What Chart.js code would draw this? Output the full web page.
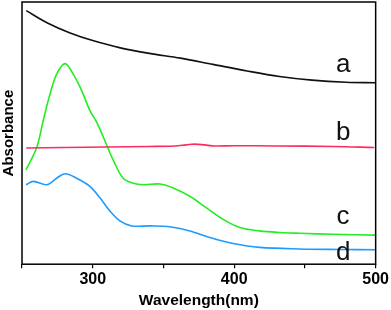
<!DOCTYPE html>
<html><head><meta charset="utf-8">
<script src="https://cdn.jsdelivr.net/npm/chart.js@4/dist/chart.umd.min.js"></script>
<style>html,body{margin:0;padding:0;background:#fff}#w{width:391px;height:310px}</style>
</head><body><div id="w"><canvas id="c"></canvas></div>
<script>
const wlA = [253, 268, 284, 300, 319.5, 340, 362, 385, 409, 432, 455, 479, 500];
const valA = [96.7, 92.0, 88.2, 85.3, 82.5, 80.4, 78.6, 76.2, 73.7, 71.6, 70.2, 69.4, 69.2];
const wlB = [253, 280, 310, 340, 358, 366, 372, 379, 386, 400, 430, 470, 499];
const valB = [44.3, 44.5, 44.7, 44.9, 45.1, 45.5, 45.8, 45.5, 45.1, 45.2, 45.1, 44.9, 44.5];
const wlC = [252.8, 260.4, 265, 269.8, 274.5, 280.4, 286.2, 292.2, 298, 302.8, 307.4, 314.5, 321.5, 328.6, 335.7, 347.5, 356.9, 368.6, 380.4, 392.2, 404, 418, 432.2, 446.3, 470, 500];
const valC = [36, 44.5, 54.8, 64.9, 72.5, 76.5, 72.5, 66.2, 58.6, 54.2, 48.6, 39.7, 32.8, 30.9, 30.3, 30.6, 29.1, 25.9, 21.5, 17.1, 14, 12.7, 12.1, 11.8, 11.4, 11.1];
const wlD = [252.8, 258, 267.4, 274.5, 280.4, 288.6, 298, 305.1, 312.1, 319.2, 327.5, 340.4, 354.5, 368.6, 382.8, 399.2, 418, 446.3, 475, 500];
const valD = [30.3, 31.6, 30.3, 32.8, 34.5, 32.8, 29.7, 25.3, 20.3, 16.5, 14.6, 14.6, 14.3, 12.7, 10.2, 7.9, 6.4, 5.8, 5.6, 5.5];
const curveLabels = ['a', 'b', 'c', 'd'];
const labelWl = [477, 477, 477, 477];
const labelVal = [73.2, 47.3, 15.2, 1.6];
const xTicks = [300, 400, 500];

function pts(xs, ys){ return xs.map((x,i)=>({x:x, y:ys[i]})); }

const frame = {
  id: 'frame',
  afterDraw(chart){
    const {ctx, chartArea:a, scales} = chart;
    ctx.save();
    ctx.strokeStyle = '#000';
    ctx.lineWidth = 1.5;
    ctx.strokeRect(a.left, a.top, a.right - a.left, a.bottom - a.top);
    ctx.fillStyle = '#111';
    ctx.font = '26px "Liberation Sans", Arial, sans-serif';
    ctx.textAlign = 'center';
    ctx.textBaseline = 'alphabetic';
    curveLabels.forEach((t,i)=>{
      ctx.fillText(t, scales.x.getPixelForValue(labelWl[i]), scales.y.getPixelForValue(labelVal[i]));
    });
    ctx.restore();
  }
};

const ds = (d, c) => ({data: d, borderColor: c, borderWidth: 1.6, pointRadius: 0, fill: false, tension: 0.35});

new Chart(document.getElementById('c'), {
  type: 'line',
  data: { datasets: [
    ds(pts(wlA, valA), '#111111'),
    ds(pts(wlB, valB), '#ff2a5f'),
    ds(pts(wlC, valC), '#22ee22'),
    ds(pts(wlD, valD), '#1e9bff')
  ]},
  options: {
    responsive: true, maintainAspectRatio: false, animation: false,
    layout: { padding: { top: 2, right: 15, bottom: 0, left: 0 } },
    plugins: { legend: { display: false }, tooltip: { enabled: false } },
    scales: {
      x: {
        type: 'linear', min: 250, max: 500,
        border: { display: false },
        grid: { display: true, drawOnChartArea: false, drawTicks: true, tickLength: 4, color: '#000', lineWidth: 1.2 },
        ticks: { stepSize: 50, padding: 2, color: '#000', maxRotation: 0, autoSkip: false,
          font: { family: '"Liberation Sans", Arial, sans-serif', size: 16, weight: 'bold' },
          callback: v => xTicks.includes(v) ? String(v) : '' },
        title: { display: true, text: 'Wavelength(nm)', color: '#000', padding: { top: 0, bottom: 0 },
          font: { family: '"Liberation Sans", Arial, sans-serif', size: 15.5, weight: 'bold' } }
      },
      y: {
        min: 0, max: 100,
        border: { display: false },
        grid: { display: false, drawTicks: false, tickLength: 0 },
        ticks: { display: false },
        title: { display: true, text: 'Absorbance', color: '#000', padding: { top: 0, bottom: 4 },
          font: { family: '"Liberation Sans", Arial, sans-serif', size: 15, weight: 'bold' } }
      }
    }
  },
  plugins: [frame]
});
</script></body></html>
